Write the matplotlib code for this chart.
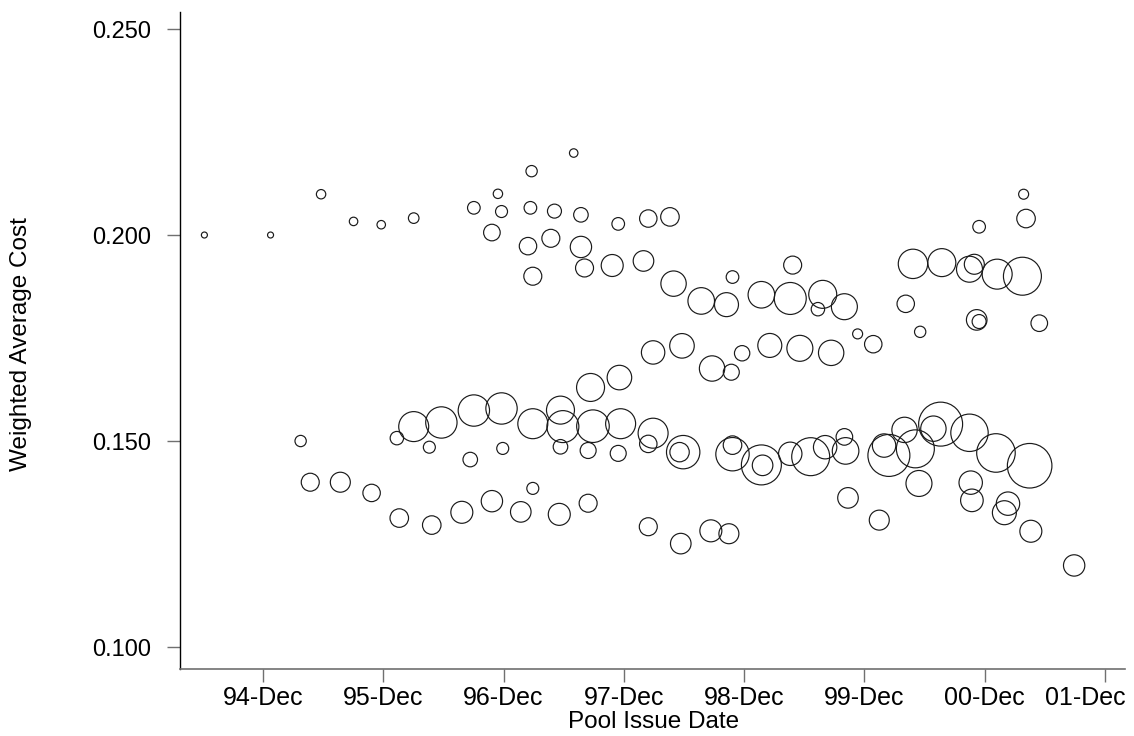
import matplotlib
matplotlib.use("Agg")
import matplotlib.pyplot as plt
import matplotlib.transforms as mtransforms
import numpy as np

plt.rcParams['font.family'] = ['Liberation Sans', 'DejaVu Sans']

# Pool issue date (decimal years)
issue_date = [
    1994.43, 1994.98, 1995.40, 1995.67, 1995.90, 1996.17, 1996.67, 1996.87, 1996.90, 1996.82,
    1997.15, 1997.50, 1997.14, 1997.34, 1997.56, 1997.12, 1997.31, 1997.56, 1997.16, 1997.59,
    1997.82, 1997.87, 1998.12, 1998.30, 1998.08, 1998.33, 1998.56, 1998.77, 1998.82, 1999.06,
    1999.30, 1999.32, 1999.57, 1999.53, 1999.75, 1999.86, 1999.99, 1999.38, 1999.64, 2000.32,
    2000.56, 2000.79, 2000.83, 2001.02, 2001.23, 2001.24, 2001.26, 2000.87, 2000.26, 2000.38,
    2000.85, 2000.87, 2001.37, 1995.23, 1995.31, 1995.56, 1995.82, 1996.05, 1996.32, 1996.57,
    1996.82, 1996.03, 1996.17, 1996.40, 1996.67, 1996.90, 1996.30, 1996.64, 1996.91, 1997.16,
    1997.39, 1997.41, 1997.66, 1997.89, 1998.16, 1998.12, 1998.41, 1998.38, 1997.39, 1997.62,
    1997.87, 1997.64, 1997.88, 1998.16, 1998.40, 1998.65, 1998.81, 1998.90, 1999.13, 1998.82,
    1998.82, 1999.06, 1999.07, 1999.30, 1997.16, 1997.06, 1997.38, 1997.62, 1998.12, 1998.39,
    1998.64, 1998.79, 1999.47, 1999.59, 1999.75, 1999.76, 2000.08, 2000.12, 2000.25, 2000.34,
    2000.49, 2000.55, 2000.79, 2001.01, 2001.29, 1999.78, 2000.04, 2000.37, 2000.80, 2000.81,
    2001.11, 2001.08, 2001.30, 2001.66,
]

# Weighted average cost
avg_cost = [
    0.2000, 0.2000, 0.2099, 0.2033, 0.2025, 0.2041, 0.2066, 0.2100, 0.2057, 0.2006,
    0.2155, 0.2199, 0.2066, 0.2058, 0.2049, 0.1973, 0.1992, 0.1971, 0.1900, 0.1920,
    0.1926, 0.2027, 0.2040, 0.2044, 0.1937, 0.1882, 0.1840, 0.1831, 0.1898, 0.1855,
    0.1846, 0.1927, 0.1856, 0.1820, 0.1826, 0.1760, 0.1735, 0.1725, 0.1714, 0.1930,
    0.1933, 0.1917, 0.1929, 0.1905, 0.1900, 0.2099, 0.2040, 0.2020, 0.1833, 0.1765,
    0.1794, 0.1790, 0.1786, 0.1500, 0.1400, 0.1400, 0.1374, 0.1313, 0.1296, 0.1327,
    0.1354, 0.1507, 0.1535, 0.1545, 0.1574, 0.1579, 0.1485, 0.1455, 0.1482, 0.1542,
    0.1575, 0.1535, 0.1536, 0.1542, 0.1519, 0.1493, 0.1473, 0.1473, 0.1486, 0.1477,
    0.1470, 0.1630, 0.1654, 0.1715, 0.1731, 0.1676, 0.1667, 0.1713, 0.1732, 0.1468,
    0.1490, 0.1442, 0.1441, 0.1469, 0.1385, 0.1328, 0.1322, 0.1349, 0.1292, 0.1251,
    0.1282, 0.1275, 0.1462, 0.1485, 0.1510, 0.1476, 0.1489, 0.1465, 0.1527, 0.1481,
    0.1530, 0.1541, 0.1520, 0.1471, 0.1440, 0.1362, 0.1308, 0.1397, 0.1399, 0.1356,
    0.1348, 0.1326, 0.1281, 0.1198,
]

# Bubble weight (pool size, arbitrary units)
pool_weight = [
    9, 9, 22, 18, 18, 28, 40, 22, 36, 69,
    32, 18, 40, 49, 53, 76, 81, 114, 81, 81,
    121, 40, 76, 86, 106, 161, 177, 144, 40, 177,
    256, 81, 196, 45, 169, 25, 76, 169, 161, 216,
    196, 169, 100, 225, 361, 25, 86, 40, 76, 32,
    106, 49, 69, 32, 81, 100, 76, 86, 86, 121,
    114, 45, 225, 246, 246, 246, 36, 53, 36, 225,
    196, 256, 266, 225, 225, 76, 279, 94, 53, 64,
    64, 196, 151, 137, 151, 161, 64, 59, 144, 279,
    86, 400, 106, 137, 36, 106, 121, 81, 81, 106,
    121, 100, 361, 137, 69, 177, 137, 441, 161, 361,
    161, 484, 350, 372, 497, 106, 100, 169, 137, 128,
    137, 144, 121, 114,
]

tick_pos = [1994.917, 1995.917, 1996.917, 1997.917, 1998.917, 1999.917, 2000.917, 2001.917]
tick_labels = ["94-Dec", "95-Dec", "96-Dec", "97-Dec", "98-Dec", "99-Dec", "00-Dec", "01-Dec"]
y_ticks = [0.100, 0.150, 0.200, 0.250]

fig = plt.figure(figsize=(11.34, 7.36), dpi=100)
ax = fig.add_axes([0.1587, 0.0910, 0.8334, 0.8927])

sizes = 2.07 * np.array(pool_weight, dtype=float)
ax.scatter(issue_date, avg_cost, s=sizes, facecolors='none', edgecolors='#1a1a1a',
           linewidths=0.85)

ax.set_xlim(1994.227, 2002.083)
ax.set_ylim(0.09466, 0.25413)

ax.set_xticks(tick_pos)
ax.set_xticklabels(tick_labels)
ax.set_yticks(y_ticks)
ax.set_yticklabels([f"{v:.3f}" for v in y_ticks])

ax.spines['top'].set_visible(False)
ax.spines['right'].set_visible(False)
ax.spines['left'].set_color('black')
ax.spines['left'].set_linewidth(1.0)
ax.spines['bottom'].set_color('#707070')
ax.spines['bottom'].set_linewidth(1.2)

ax.tick_params(axis='x', direction='out', length=9, width=1.0, color='#707070',
               labelsize=18, pad=3)
ax.tick_params(axis='y', direction='out', length=9.5, width=1.0, color='#707070',
               labelsize=17, pad=11)

# keep the last date label inside the figure (shifted left as in the original)
last_lbl = ax.get_xticklabels()[-1]
last_lbl.set_transform(last_lbl.get_transform() +
                       mtransforms.ScaledTranslation(-0.20, 0, fig.dpi_scale_trans))

ax.set_xlabel("Pool Issue Date", fontsize=17.5)
ax.set_ylabel("Weighted Average Cost", fontsize=17.5)
ax.xaxis.set_label_coords(0.5016, -0.064)
ax.yaxis.set_label_coords(-0.157, 0.494)

fig.savefig("out.png", dpi=100, facecolor='white')
